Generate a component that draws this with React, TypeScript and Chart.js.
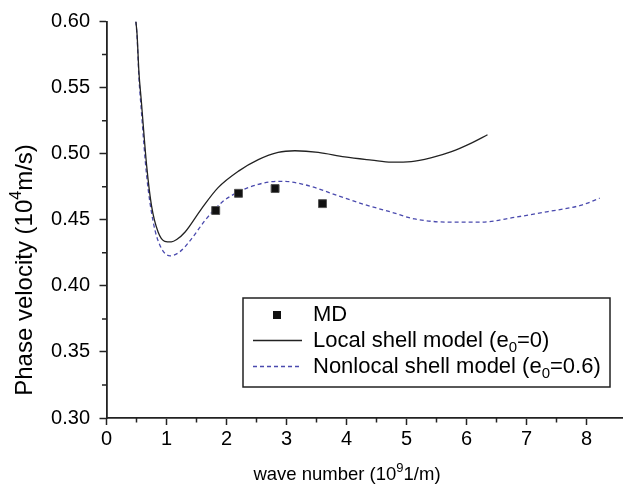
import React, { useEffect, useRef } from 'react';
import { Chart, registerables } from 'chart.js';

Chart.register(...registerables);

// ---------- data ----------
const xTickValues = [0, 1, 2, 3, 4, 5, 6, 7, 8];
const yTickValues = [0.3, 0.35, 0.4, 0.45, 0.5, 0.55, 0.6];
const xMinorTicks = [0.5, 1.5, 2.5, 3.5, 4.5, 5.5, 6.5, 7.5];
const yMinorTicks = [0.325, 0.375, 0.425, 0.475, 0.525, 0.575];

const mdX = [1.82, 2.2, 2.81, 3.6];
const mdY = [0.457, 0.47, 0.4736, 0.4622];

const localX = [0.49, 0.51, 0.54, 0.58, 0.67, 0.75, 0.86, 0.97, 1.08, 1.17, 1.31, 1.58, 1.86, 2.2, 2.53, 2.86, 3.14, 3.53, 3.97, 4.42, 4.75, 5.08, 5.42, 5.75, 6.08, 6.35];
const localY = [0.6, 0.59, 0.562, 0.54, 0.4906, 0.4607, 0.4407, 0.4337, 0.4332, 0.435, 0.4407, 0.4581, 0.4743, 0.4868, 0.4955, 0.501, 0.5022, 0.501, 0.4975, 0.4951, 0.4936, 0.494, 0.497, 0.5015, 0.508, 0.5143];

const nonlocalX = [0.49, 0.51, 0.54, 0.58, 0.67, 0.78, 0.89, 1.06, 1.22, 1.42, 1.64, 1.92, 2.2, 2.53, 2.86, 3.08, 3.42, 3.86, 4.31, 4.75, 5.14, 5.7, 6.25, 6.81, 7.36, 7.92, 8.22];
const nonlocalY = [0.6, 0.588, 0.558, 0.533, 0.483, 0.448, 0.4307, 0.4227, 0.4257, 0.4357, 0.4494, 0.4631, 0.4711, 0.4768, 0.4791, 0.4786, 0.4751, 0.4681, 0.4614, 0.4557, 0.4506, 0.4482, 0.4482, 0.4519, 0.4562, 0.4611, 0.4663];

const seriesLabels = ['MD', 'Local shell model (e_{0}=0)', 'Nonlocal shell model (e_{0}=0.6)'];
const xTitle = 'wave number (10^{9}1/m)';
const yTitle = 'Phase velocity (10^{4}m/s)';

const FONT = "'Liberation Sans', Arial, sans-serif";

// ---------- rich text helpers ----------
type Seg = { t: string; kind: 'n' | 'sub' | 'sup' };
function parseRich(s: string): Seg[] {
  const out: Seg[] = [];
  const re = /([_^])\{([^}]*)\}/g;
  let last = 0;
  let m: RegExpExecArray | null;
  while ((m = re.exec(s))) {
    if (m.index > last) out.push({ t: s.slice(last, m.index), kind: 'n' });
    out.push({ t: m[2], kind: m[1] === '_' ? 'sub' : 'sup' });
    last = m.index + m[0].length;
  }
  if (last < s.length) out.push({ t: s.slice(last), kind: 'n' });
  return out;
}
function richWidth(ctx: CanvasRenderingContext2D, segs: Seg[], size: number) {
  let w = 0;
  for (const sg of segs) {
    ctx.font = `${sg.kind === 'n' ? size : Math.round(size * 0.68)}px ${FONT}`;
    w += ctx.measureText(sg.t).width;
  }
  return w;
}
function drawRich(ctx: CanvasRenderingContext2D, s: string, x: number, y: number, size: number, align: 'left' | 'center') {
  const segs = parseRich(s);
  ctx.textBaseline = 'middle';
  ctx.textAlign = 'left';
  let cx = align === 'center' ? x - richWidth(ctx, segs, size) / 2 : x;
  for (const sg of segs) {
    const fs = sg.kind === 'n' ? size : Math.round(size * 0.68);
    ctx.font = `${fs}px ${FONT}`;
    const dy = sg.kind === 'sub' ? size * 0.32 : sg.kind === 'sup' ? -size * 0.33 : 0;
    ctx.fillText(sg.t, cx, y + dy);
    cx += ctx.measureText(sg.t).width;
  }
}

const decorPlugin = {
  id: 'decor',
  afterDraw(chart: any) {
    const ctx: CanvasRenderingContext2D = chart.ctx;
    const xs = chart.scales.x;
    const ys = chart.scales.y;
    const area = chart.chartArea;
    ctx.save();
    // minor ticks
    ctx.strokeStyle = '#222';
    ctx.lineWidth = 1.5;
    ctx.beginPath();
    for (const v of xMinorTicks) {
      const px = xs.getPixelForValue(v);
      ctx.moveTo(px, area.bottom);
      ctx.lineTo(px, area.bottom + 4.5);
    }
    for (const v of yMinorTicks) {
      const py = ys.getPixelForValue(v);
      ctx.moveTo(area.left, py);
      ctx.lineTo(area.left - 4.5, py);
    }
    ctx.stroke();

    // axis titles
    ctx.fillStyle = '#000';
    drawRich(ctx, xTitle, 347, 475, 18.5, 'center');
    ctx.save();
    ctx.translate(25, 270);
    ctx.rotate(-Math.PI / 2);
    drawRich(ctx, yTitle, 0, 0, 24, 'center');
    ctx.restore();

    // legend
    const bx = 243, by = 298, bw = 367, bh = 89;
    ctx.fillStyle = '#fff';
    ctx.fillRect(bx, by, bw, bh);
    ctx.strokeStyle = '#222';
    ctx.lineWidth = 1.5;
    ctx.strokeRect(bx, by, bw, bh);
    const rows = [315, 340.5, 366.5];
    const ds = chart.data.datasets;
    rows.forEach((ry, i) => {
      const d = ds[i];
      if (i === 0) {
        ctx.fillStyle = '#111';
        ctx.fillRect(273, ry - 4, 8, 8);
      } else {
        ctx.save();
        ctx.strokeStyle = d.borderColor;
        ctx.lineWidth = d.borderWidth;
        ctx.setLineDash(d.borderDash || []);
        ctx.beginPath();
        ctx.moveTo(253, ry);
        ctx.lineTo(302, ry);
        ctx.stroke();
        ctx.restore();
      }
      ctx.fillStyle = '#000';
      drawRich(ctx, seriesLabels[i], 313, ry, 22, 'left');
    });
    ctx.restore();
  },
};

export default function App() {
  const ref = useRef<HTMLCanvasElement>(null);
  useEffect(() => {
    document.body.style.margin = '0';
    const toPts = (xa: number[], ya: number[]) => xa.map((x, i) => ({ x, y: ya[i] }));
    const chart = new Chart(ref.current!, {
      type: 'scatter',
      data: {
        datasets: [
          {
            label: 'MD',
            data: toPts(mdX, mdY),
            pointStyle: 'rect',
            pointRadius: 5.6,
            backgroundColor: '#111',
            borderColor: '#555',
            borderWidth: 1,
            showLine: false,
          },
          {
            label: 'Local',
            data: toPts(localX, localY),
            showLine: true,
            borderColor: '#222',
            borderWidth: 1.3,
            pointRadius: 0,
            cubicInterpolationMode: 'monotone',
          },
          {
            label: 'Nonlocal',
            data: toPts(nonlocalX, nonlocalY),
            showLine: true,
            borderColor: '#4a4aae',
            borderWidth: 1.3,
            borderDash: [4, 3],
            pointRadius: 0,
            cubicInterpolationMode: 'monotone',
          },
        ],
      } as any,
      options: {
        animation: false,
        responsive: false,
        layout: { padding: { top: 17, right: 16.5, left: 0, bottom: 0 } },
        plugins: { legend: { display: false }, tooltip: { enabled: false } },
        scales: {
          x: {
            type: 'linear',
            min: 0,
            max: 8.6,
            afterBuildTicks: (s: any) => {
              s.ticks = xTickValues.map((v) => ({ value: v }));
            },
            afterFit: (s: any) => {
              s.height = 74;
            },
            ticks: {
              font: { size: 20, family: FONT },
              color: '#000',
              padding: 2,
              maxRotation: 0,
              autoSkip: false,
              callback: (v: any) => String(v),
            },
            grid: { drawOnChartArea: false, tickLength: 7, tickColor: '#222', tickWidth: 1.5 },
            border: { color: '#222', width: 1.8 },
          },
          y: {
            type: 'linear',
            min: 0.3,
            max: 0.6,
            afterBuildTicks: (s: any) => {
              s.ticks = yTickValues.map((v) => ({ value: v }));
            },
            afterFit: (s: any) => {
              s.width = 106.5;
            },
            ticks: {
              font: { size: 20, family: FONT },
              color: '#000',
              padding: 9.5,
              autoSkip: false,
              callback: (v: any) => Number(v).toFixed(2),
            },
            grid: { drawOnChartArea: false, tickLength: 7, tickColor: '#222', tickWidth: 1.5 },
            border: { color: '#222', width: 1.8 },
          },
        },
      },
      plugins: [decorPlugin],
    });
    return () => chart.destroy();
  }, []);
  return (
    <div style={{ width: 639, height: 492, position: 'relative', background: '#fff' }}>
      <canvas ref={ref} width={639} height={492} />
    </div>
  );
}
